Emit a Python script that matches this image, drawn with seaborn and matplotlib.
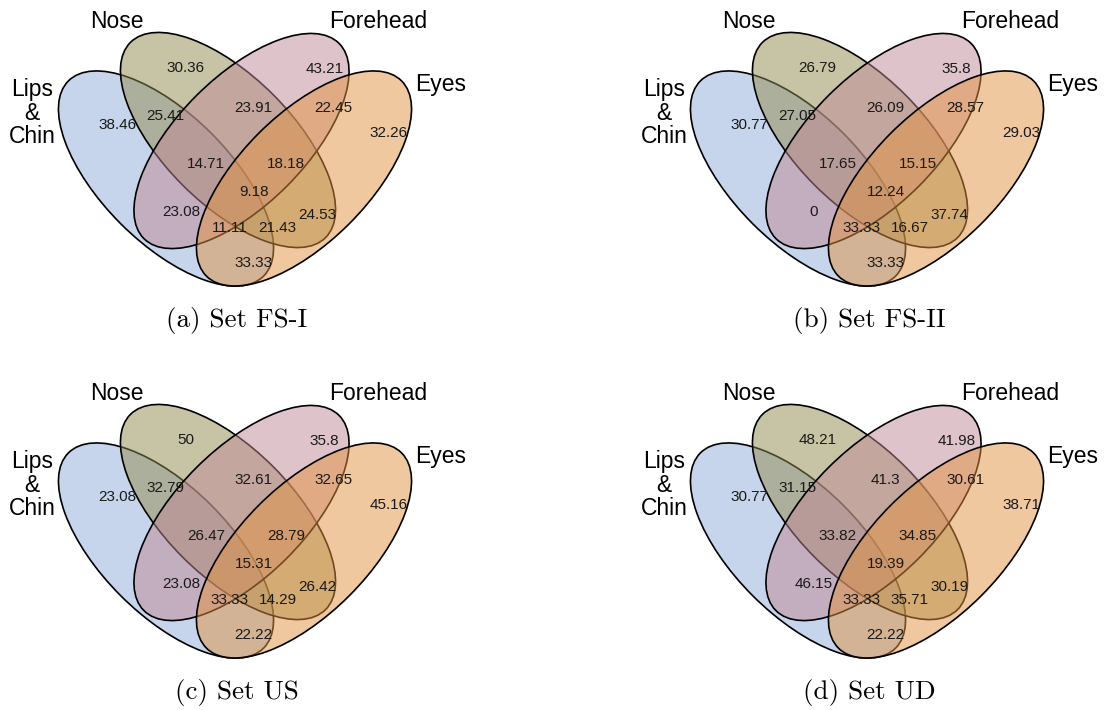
import matplotlib
matplotlib.use("Agg")
import matplotlib.pyplot as plt
from matplotlib.patches import Ellipse
import seaborn as sns

# ---- data -------------------------------------------------------------
set_names = ["Lips\n&\nChin", "Nose", "Forehead", "Eyes"]
set_keys = ["L", "N", "F", "E"]

# region keys: letters give the sets a region belongs to
regions = ["N", "F", "L", "LN", "NF", "FE", "E", "LNF", "NFE", "LNFE",
           "LF", "NE", "LFE", "LNE", "LE"]

values_fs1 = [30.36, 43.21, 38.46, 25.41, 23.91, 22.45, 32.26, 14.71, 18.18,
              9.18, 23.08, 24.53, 11.11, 21.43, 33.33]
values_fs2 = [26.79, 35.8, 30.77, 27.05, 26.09, 28.57, 29.03, 17.65, 15.15,
              12.24, 0, 37.74, 33.33, 16.67, 33.33]
values_us = [50, 35.8, 23.08, 32.79, 32.61, 32.65, 45.16, 26.47, 28.79,
             15.31, 23.08, 26.42, 33.33, 14.29, 22.22]
values_ud = [48.21, 41.98, 30.77, 31.15, 41.3, 30.61, 38.71, 33.82, 34.85,
             19.39, 46.15, 30.19, 33.33, 35.71, 22.22]

captions = ["(a) Set FS-I", "(b) Set FS-II", "(c) Set US", "(d) Set UD"]
panel_values = [values_fs1, values_fs2, values_us, values_ud]

# ---- layout (panel-local pixel coordinates, y pointing down) ----------
FIG_W, FIG_H = 1105, 710
PANEL_W, PANEL_H = 470, 338
panel_origin = [(0, 0), (632, 0), (0, 372), (632, 372)]

ellipse_center = {"L": (166, 178.5), "N": (228, 140),
                  "F": (241.5, 141), "E": (304, 178.5)}
ellipse_angle = {"L": 45, "N": 45, "F": -45, "E": -45}
SEMI_MAJOR, SEMI_MINOR = 138, 64

fill_colors = sns.color_palette(["#8FADD9", "#918B4D", "#C18997", "#E19341"])
FILL_ALPHA = 0.5

region_pos = {
    "N": (185.5, 68.5), "F": (324.5, 69), "L": (117.5, 125),
    "LN": (165.5, 116.5), "NF": (253.5, 108), "FE": (333.5, 108),
    "E": (389, 133), "LNF": (206, 164), "NFE": (286, 164),
    "LNFE": (254, 191.5), "LF": (181.5, 212), "NE": (317.5, 215),
    "LFE": (230, 228), "LNE": (277.5, 228), "LE": (253.5, 263),
}
name_pos = {"L": (32, 113), "N": (117, 21), "F": (378, 21), "E": (441, 85)}
caption_pos = (237, 320)

# ---- drawing ------------------------------------------------------------
sns.set_theme(style="white")
plt.rcParams["font.family"] = ["Liberation Sans", "DejaVu Sans"]

fig = plt.figure(figsize=(FIG_W / 100, FIG_H / 100), dpi=100)

for (ox, oy), vals, cap in zip(panel_origin, panel_values, captions):
    ax = fig.add_axes([ox / FIG_W, 1 - (oy + PANEL_H) / FIG_H,
                       PANEL_W / FIG_W, PANEL_H / FIG_H])
    ax.set_xlim(0, PANEL_W)
    ax.set_ylim(PANEL_H, 0)
    ax.axis("off")

    for key, col in zip(set_keys, fill_colors):
        ell = Ellipse(ellipse_center[key], 2 * SEMI_MAJOR, 2 * SEMI_MINOR,
                      angle=ellipse_angle[key],
                      facecolor=(*col, FILL_ALPHA), edgecolor="black",
                      linewidth=1.2, clip_on=False)
        ax.add_patch(ell)

    for key, name in zip(set_keys, set_names):
        x, y = name_pos[key]
        ax.text(x, y, name, ha="center", va="center", fontsize=16.5,
                linespacing=1.05, color="black")

    for reg, v in zip(regions, vals):
        x, y = region_pos[reg]
        ax.text(x, y, f"{v:g}", ha="center", va="center", fontsize=11,
                color="#1a1a1a")

    ax.text(*caption_pos, cap, ha="center", va="center", fontsize=19.5,
            family="cmr10", color="black")

fig.savefig("out.png", dpi=100, facecolor="white")
